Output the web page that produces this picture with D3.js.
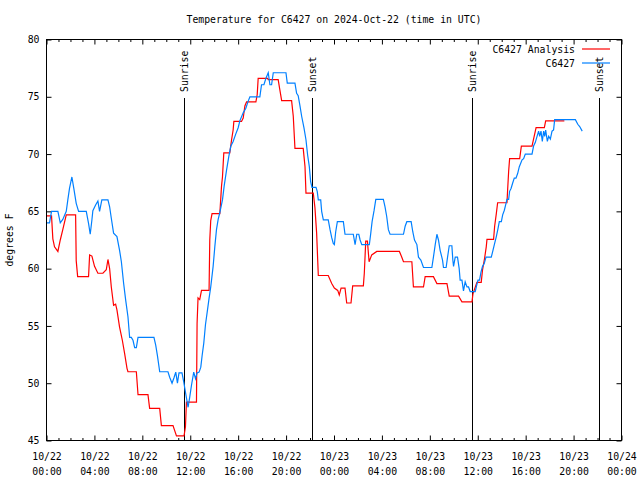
<!DOCTYPE html>
<html>
<head>
<meta charset="utf-8">
<script src="https://cdn.jsdelivr.net/npm/d3@7/dist/d3.min.js"></script>
<style>
  html, body { margin: 0; padding: 0; background: #fff; }
  svg { display: block; }
  text { font-family: "DejaVu Sans Mono", "Liberation Mono", monospace; font-size: 9.8px; fill: #000; }
</style>
</head>
<body>
<svg id="chart" width="640" height="480"></svg>
<script>
// ---------- data ----------
const chartTitle = "Temperature for C6427 on 2024-Oct-22 (time in UTC)";
const yLabel = "degrees F";
const seriesNames = ["C6427 Analysis", "C6427"];
const seriesColors = ["#ff0000", "#0080ff"];

// hours since 2024-10-22 00:00 UTC
const xMajorHours = [0, 4, 8, 12, 16, 20, 24, 28, 32, 36, 40, 44, 48];
const xTickDates  = ["10/22", "10/22", "10/22", "10/22", "10/22", "10/22", "10/23", "10/23", "10/23", "10/23", "10/23", "10/23", "10/24"];
const xTickTimes  = ["00:00", "04:00", "08:00", "12:00", "16:00", "20:00", "00:00", "04:00", "08:00", "12:00", "16:00", "20:00", "00:00"];
const yTicks = [45, 50, 55, 60, 65, 70, 75, 80];

const sunLabels = ["Sunrise", "Sunset", "Sunrise", "Sunset"];
const sunHours  = [11.48, 22.13, 35.52, 46.1];

// C6427 Analysis (red)
const anaHours = [0, 0.42, 0.53, 0.67, 0.95, 1.15, 1.36, 1.65, 2.43, 2.48, 2.6, 3.51, 3.6, 3.79, 4.01, 4.29, 4.71, 4.99, 5.13, 5.27,
  5.41, 5.6, 5.77, 5.88, 6.1, 6.33, 6.52, 6.72, 6.8, 7.5, 7.64, 8.47, 8.61, 9.45, 9.59, 10.56, 10.85, 11.48, 11.6, 11.68,
  12.52, 12.57, 12.65, 12.79, 12.94, 13.57, 13.63, 13.71, 13.82, 14.47, 14.61, 14.69, 14.8, 15.3, 15.45, 15.58, 15.64, 16.28, 16.42, 16.56,
  16.7, 17.48, 17.59, 17.67, 18.46, 18.51, 19.34, 19.48, 19.63, 20.46, 20.6, 20.74, 21.43, 21.58, 21.66, 22.27, 22.41, 22.55, 22.69, 23.52,
  23.81, 24.03, 24.31, 24.44, 24.59, 24.92, 25.06, 25.42, 25.56, 26.45, 26.53, 26.65, 26.79, 26.93, 27.15, 27.57, 29.46, 29.66, 29.8, 30.5,
  30.63, 31.47, 31.61, 32.3, 32.59, 33.43, 33.62, 34.4, 34.68, 35.52, 35.6, 35.93, 36.29, 36.4, 36.57, 36.71, 36.77, 37.32, 37.41, 37.55,
  37.66, 38.44, 38.49, 38.58, 38.66, 39.5, 39.64, 40.53, 40.87, 41.56, 41.67, 43.23];
const anaTemps = [64.6, 64.6, 62.6, 61.9, 61.5, 62.5, 63.4, 64.7, 64.7, 60.7, 59.3, 59.3, 61.2, 61.1, 60.2, 59.6, 59.6, 59.9, 60.8, 60.0,
  58.4, 56.8, 56.9, 56.4, 54.9, 53.75, 52.6, 51.3, 51.0, 51.0, 49.0, 49.0, 47.8, 47.8, 46.3, 46.3, 45.4, 45.4, 46.2, 48.35,
  48.35, 55.2, 57.45, 57.3, 58.1, 58.1, 62.5, 64.2, 64.8, 64.8, 67.2, 68.0, 70.1, 70.1, 71.25, 72.1, 72.85, 72.85, 73.15, 74.2,
  74.55, 74.55, 75.2, 76.6, 76.6, 76.5, 76.5, 75.6, 74.66, 74.66, 73.3, 70.5, 70.5, 68.9, 66.6, 66.6, 65.3, 63.1, 59.4, 59.4,
  58.7, 58.3, 58.1, 57.7, 58.3, 58.3, 57.0, 57.0, 58.5, 58.5, 59.6, 62.4, 62.4, 60.6, 61.2, 61.5, 61.5, 61.0, 60.6, 60.6,
  58.4, 58.4, 59.3, 59.3, 58.7, 58.7, 57.6, 57.6, 57.1, 57.1, 57.8, 58.8, 58.8, 59.9, 60.9, 61.9, 62.55, 62.55, 63.7, 64.8,
  65.75, 65.75, 66.8, 68.5, 69.6, 69.6, 70.7, 70.7, 72.3, 72.3, 72.9, 72.9];

// C6427 observations (blue)
const obsHours = [0, 0.25, 0.42, 0.95, 1.15, 1.36, 1.65, 1.78, 1.92, 2.12, 2.28, 2.48, 2.68, 3.32, 3.51, 3.65, 3.79, 3.87, 4.1, 4.29,
  4.43, 4.62, 5.13, 5.27, 5.41, 5.6, 5.88, 6.1, 6.25, 6.44, 6.61, 6.8, 6.94, 7.08, 7.22, 7.36, 7.5, 7.64, 8.97, 9.12,
  9.26, 9.45, 10.14, 10.29, 10.48, 10.65, 10.79, 10.93, 11.06, 11.31, 11.46, 11.62, 11.82, 11.96, 12.1, 12.29, 12.44, 12.57, 12.74, 12.88,
  12.99, 13.13, 13.27, 13.44, 13.57, 13.71, 13.91, 14.05, 14.19, 14.33, 14.47, 14.69, 14.83, 15.03, 15.22, 15.39, 15.58, 15.78, 16.0, 16.14,
  16.42, 16.64, 16.83, 16.98, 17.81, 17.95, 18.15, 18.31, 18.51, 18.65, 18.79, 18.93, 19.99, 20.1, 20.74, 20.88, 21.01, 21.16, 21.3, 21.49,
  21.66, 21.8, 21.94, 22.05, 22.16, 22.5, 22.6, 22.69, 22.89, 22.97, 23.11, 23.52, 23.67, 23.81, 23.94, 24.03, 24.14, 24.28, 24.78, 24.92,
  25.61, 25.76, 25.9, 26.07, 26.18, 26.32, 26.95, 27.07, 27.18, 27.35, 27.49, 28.12, 28.26, 28.4, 28.54, 28.68, 29.8, 29.94, 30.08, 30.44,
  30.58, 30.72, 30.92, 31.05, 31.25, 31.47, 32.17, 32.3, 32.45, 32.59, 32.72, 32.86, 33.06, 33.14, 33.36, 33.48, 33.62, 33.84, 33.92, 33.98,
  34.12, 34.31, 34.45, 34.53, 34.68, 34.81, 34.95, 35.1, 35.23, 35.37, 35.79, 35.88, 36.02, 36.15, 36.27, 36.4, 36.54, 36.69, 37.13, 37.27,
  37.41, 37.55, 37.69, 37.8, 37.97, 38.08, 38.22, 38.36, 38.44, 38.58, 38.66, 38.78, 38.91, 39.05, 39.19, 39.33, 39.47, 39.7, 39.83, 39.97,
  40.53, 40.66, 40.8, 40.95, 41.08, 41.17, 41.28, 41.39, 41.5, 41.59, 41.67, 41.81, 41.92, 42.06, 42.2, 42.33, 42.42, 44.15, 44.35, 44.51,
  44.72];
const obsTemps = [64.0, 64.0, 65.0, 65.0, 64.0, 64.3, 65.0, 66.0, 67.0, 68.0, 67.0, 65.7, 65.0, 65.0, 63.95, 63.0, 64.25, 65.05, 65.55, 65.9,
  65.0, 66.0, 66.0, 65.4, 64.4, 63.1, 62.8, 61.6, 60.6, 58.7, 57.25, 55.8, 54.0, 54.0, 53.75, 53.1, 53.1, 54.0, 54.0, 53.3,
  52.4, 51.0, 51.0, 50.5, 50.0, 50.5, 50.97, 50.0, 50.9, 50.9, 50.1, 49.1, 47.9, 48.8, 49.8, 50.97, 50.4, 50.9, 50.97, 51.4,
  52.4, 53.5, 55.1, 56.4, 57.4, 58.4, 60.2, 61.9, 63.4, 64.3, 64.9, 66.0, 67.2, 68.6, 69.8, 70.7, 71.1, 71.7, 72.3, 72.9,
  73.6, 74.0, 74.6, 75.0, 75.0, 76.05, 76.05, 76.6, 77.1, 76.05, 76.05, 77.1, 77.1, 76.2, 76.2, 75.3, 75.1, 74.2, 73.3, 72.3,
  71.25, 69.9, 68.9, 67.6, 67.1, 67.1, 66.75, 66.0, 66.0, 65.0, 64.25, 64.25, 63.4, 62.7, 62.2, 62.1, 63.2, 64.1, 64.1, 63.0,
  63.0, 62.1, 63.0, 63.0, 62.5, 62.1, 62.1, 63.1, 64.1, 65.1, 66.05, 66.05, 65.4, 64.55, 63.4, 63.0, 63.0, 63.7, 64.1, 64.1,
  63.2, 62.5, 62.1, 61.0, 60.75, 60.1, 60.1, 61.0, 62.1, 63.0, 62.5, 61.6, 60.75, 60.1, 60.1, 61.0, 62.0, 62.0, 60.75, 60.2,
  61.0, 61.0, 60.0, 59.0, 59.0, 58.06, 58.85, 58.4, 58.4, 58.0, 58.0, 58.4, 59.0, 59.0, 59.7, 60.2, 60.45, 61.0, 61.0, 61.6,
  62.2, 62.8, 63.5, 64.1, 64.1, 64.7, 65.1, 65.7, 66.05, 66.05, 66.75, 67.0, 67.45, 67.9, 67.9, 68.3, 68.9, 69.5, 69.6, 70.0,
  70.0, 70.7, 71.0, 71.55, 72.0, 71.55, 72.0, 71.1, 72.0, 71.55, 72.1, 71.1, 71.55, 71.3, 72.0, 72.1, 73.0, 73.0, 72.6, 72.4,
  72.0];

// ---------- layout ----------
const svg = d3.select("#chart");
const x = d3.scaleLinear().domain([0, 48]).range([46.5, 621.5]);
const y = d3.scaleLinear().domain([45, 80]).range([440.5, 39.5]);
const minorHours = d3.range(0, 49).filter(h => h % 4 !== 0);

// title
svg.append("text").attr("x", 334).attr("y", 23).attr("text-anchor", "middle").text(chartTitle);

// y label
svg.append("text").attr("transform", "translate(13,240) rotate(-90)").attr("text-anchor", "middle").text(yLabel);

function styleAxis(g) {
  g.select(".domain").remove();
  g.selectAll(".tick line").attr("stroke", "#000").attr("stroke-width", 1);
}

// bottom axis major with labels
const gB = svg.append("g").attr("transform", "translate(0,440.5)")
  .call(d3.axisBottom(x).tickValues(xMajorHours).tickSize(-5).tickFormat(() => ""));
styleAxis(gB);
gB.selectAll(".tick").each(function(d, i) {
  const t = d3.select(this).append("text").attr("text-anchor", "middle").style("font-size", "9.8px");
  t.append("tspan").attr("x", 0).attr("y", 19).text(xTickDates[i]);
  t.append("tspan").attr("x", 0).attr("y", 34).text(xTickTimes[i]);
});
const gBm = svg.append("g").attr("transform", "translate(0,440.5)")
  .call(d3.axisBottom(x).tickValues(minorHours).tickSize(-2.5).tickFormat(() => ""));
styleAxis(gBm);

// top axis
const gT = svg.append("g").attr("transform", "translate(0,39.5)")
  .call(d3.axisTop(x).tickValues(xMajorHours).tickSize(-5).tickFormat(() => ""));
styleAxis(gT);
const gTm = svg.append("g").attr("transform", "translate(0,39.5)")
  .call(d3.axisTop(x).tickValues(minorHours).tickSize(-2.5).tickFormat(() => ""));
styleAxis(gTm);

// left axis
const gL = svg.append("g").attr("transform", "translate(46.5,0)")
  .call(d3.axisLeft(y).tickValues(yTicks).tickSize(-5).tickPadding(7).tickFormat(d3.format("d")));
styleAxis(gL);
gL.selectAll(".tick text").style("font-size", "9.8px").style("font-family", null).attr("fill", "#000");

// right axis
const gR = svg.append("g").attr("transform", "translate(621.5,0)")
  .call(d3.axisRight(y).tickValues(yTicks).tickSize(-5).tickFormat(() => ""));
styleAxis(gR);

// sunrise / sunset markers
sunHours.forEach((h, i) => {
  const xp = Math.round(x(h)) + 0.5;
  svg.append("line").attr("x1", xp).attr("x2", xp).attr("y1", 98).attr("y2", 440.5)
    .attr("stroke", "#000").attr("stroke-width", 1);
  svg.append("text").attr("transform", `translate(${xp + 3.5},92) rotate(-90)`)
    .attr("text-anchor", "start").text(sunLabels[i]);
});

// series lines
const anaData = anaHours.map((h, i) => [h, anaTemps[i]]);
const obsData = obsHours.map((h, i) => [h, obsTemps[i]]);
const line = d3.line().x(d => x(d[0])).y(d => y(d[1]));

svg.append("path").datum(anaData).attr("d", line)
  .attr("fill", "none").attr("stroke", seriesColors[0]).attr("stroke-width", 1.2);
svg.append("path").datum(obsData).attr("d", line)
  .attr("fill", "none").attr("stroke", seriesColors[1]).attr("stroke-width", 1.2);

// frame
svg.append("rect").attr("x", 46.5).attr("y", 39.5).attr("width", 575).attr("height", 401)
  .attr("fill", "none").attr("stroke", "#000").attr("stroke-width", 1);

// legend
const legendY = [49, 63];
seriesNames.forEach((name, i) => {
  svg.append("text").attr("x", 575).attr("y", legendY[i] + 4).attr("text-anchor", "end").text(name);
  svg.append("line").attr("x1", 582).attr("x2", 610).attr("y1", legendY[i]).attr("y2", legendY[i])
    .attr("stroke", seriesColors[i]).attr("stroke-width", 1.2);
});
</script>
</body>
</html>
